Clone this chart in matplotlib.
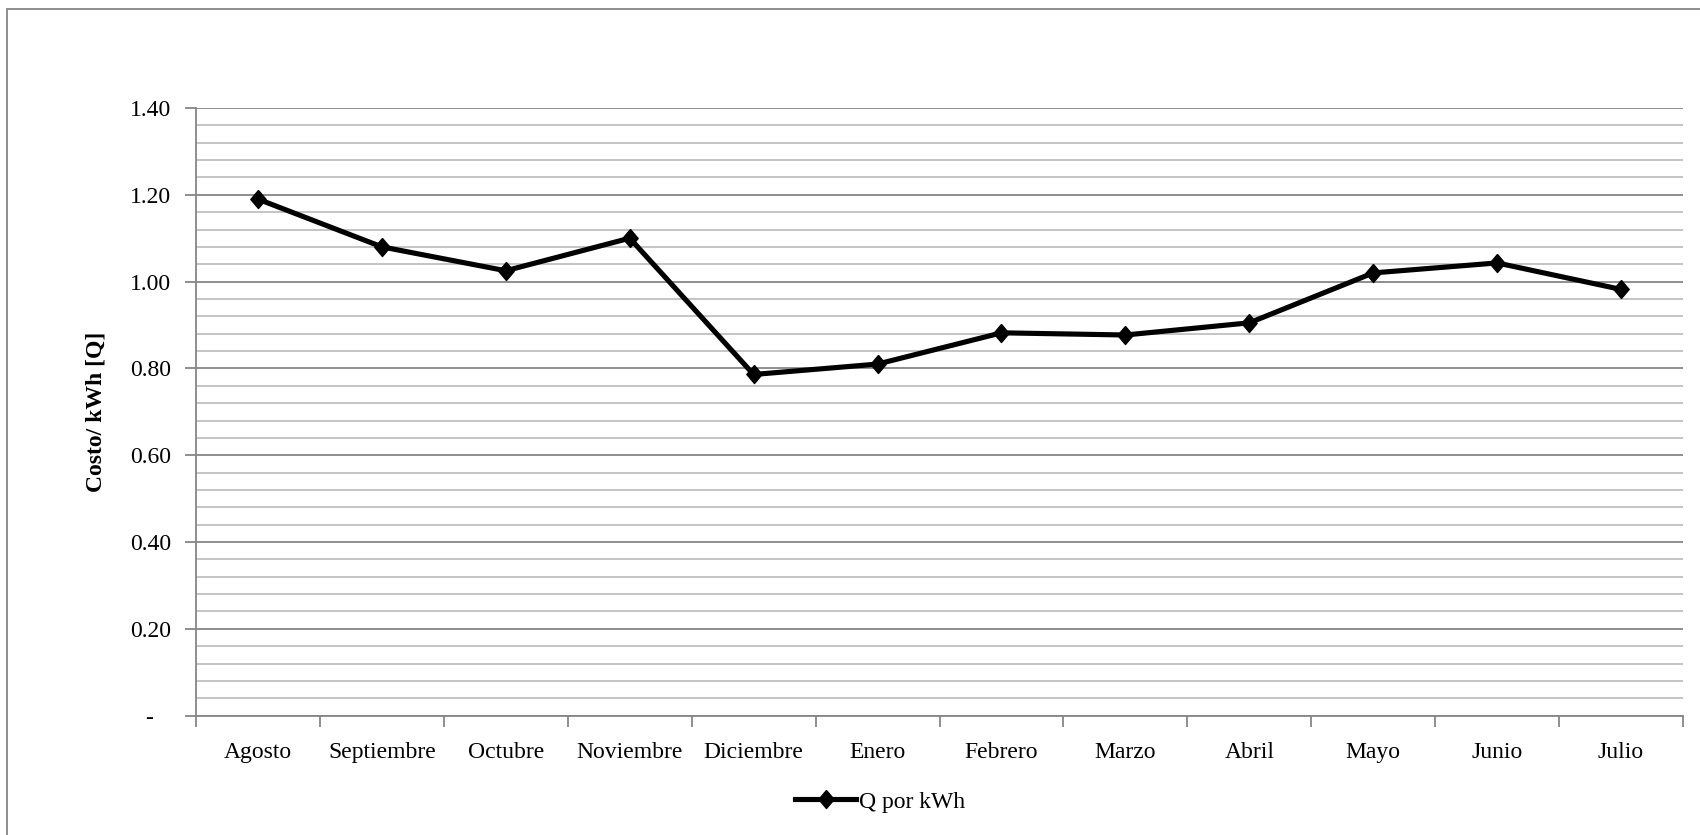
import matplotlib
matplotlib.use("Agg")
import matplotlib.pyplot as plt
from matplotlib.patches import Rectangle
from matplotlib.ticker import MultipleLocator, FixedLocator, NullFormatter

months = ["Agosto", "Septiembre", "Octubre", "Noviembre", "Diciembre", "Enero",
          "Febrero", "Marzo", "Abril", "Mayo", "Junio", "Julio"]
cost_per_kwh = [1.19, 1.08, 1.025, 1.10, 0.786, 0.81, 0.882, 0.877, 0.905,
                1.02, 1.043, 0.982]
y_ticks = [0.0, 0.2, 0.4, 0.6, 0.8, 1.0, 1.2, 1.4]
y_labels = ["-   ", "0.20", "0.40", "0.60", "0.80", "1.00", "1.20", "1.40"]
series_name = "Q por kWh"

plt.rcParams["font.family"] = ["Liberation Serif", "DejaVu Serif"]

fig = plt.figure(figsize=(17, 8.35), dpi=100)
ax = fig.add_axes([0.1153, 0.1429, 0.99 - 0.1153, 0.8707 - 0.1429])

major_col = "#868686"
minor_col = "#BFBFBF"
fs = 17

x = list(range(len(months)))
diamond = [(0, 1), (0.85, 0), (0, -1), (-0.85, 0), (0, 1)]
ax.plot(x, cost_per_kwh, color="black", linewidth=3.7, marker=diamond,
        markersize=13, markerfacecolor="black", markeredgecolor="black",
        label=series_name, zorder=5, solid_joinstyle="miter")

ax.set_xlim(-0.5, len(months) - 0.5)
ax.set_ylim(0, 1.4)

# y axis: major ticks with labels, minor gridlines every 0.04
ax.yaxis.set_major_locator(FixedLocator(y_ticks))
ax.set_yticklabels(y_labels)
ax.yaxis.set_minor_locator(MultipleLocator(0.04))
ax.yaxis.set_minor_formatter(NullFormatter())
ax.grid(which="major", axis="y", color=major_col, linewidth=1.3)
ax.grid(which="minor", axis="y", color=minor_col, linewidth=1.3)
ax.set_axisbelow(True)

# x axis: category labels with tick marks between categories
ax.set_xticks(x)
ax.set_xticklabels(months)
ax.xaxis.set_minor_locator(FixedLocator([i - 0.5 for i in range(len(months) + 1)]))
ax.tick_params(axis="x", which="major", length=0, pad=19, labelsize=fs)
ax.tick_params(axis="x", which="minor", length=8, width=1.3, color=major_col,
               direction="out")
ax.tick_params(axis="y", which="major", length=8, width=1.3, color=major_col,
               direction="out", pad=10, labelsize=fs)
ax.tick_params(axis="y", which="minor", length=0)

for side in ("top", "right"):
    ax.spines[side].set_visible(False)
for side in ("left", "bottom"):
    ax.spines[side].set_color(major_col)
    ax.spines[side].set_linewidth(1.3)

fig.text(96 / 1700, 1 - 412 / 835, "Costo/ kWh [Q]", rotation=90,
         ha="center", va="center", fontsize=fs, fontweight="bold")

leg = fig.legend(loc="center", bbox_to_anchor=(880 / 1700, 1 - 802 / 835),
                 frameon=False, fontsize=fs, handlelength=2.6,
                 handletextpad=0.1, markerscale=1.0)

# outer chart border
fig.patches.append(Rectangle((7 / 1700, -0.05), 1.2, 1 - 9 / 835 + 0.05,
                             transform=fig.transFigure, fill=False,
                             edgecolor=major_col, linewidth=1.3))

fig.savefig("out.png", dpi=100)
